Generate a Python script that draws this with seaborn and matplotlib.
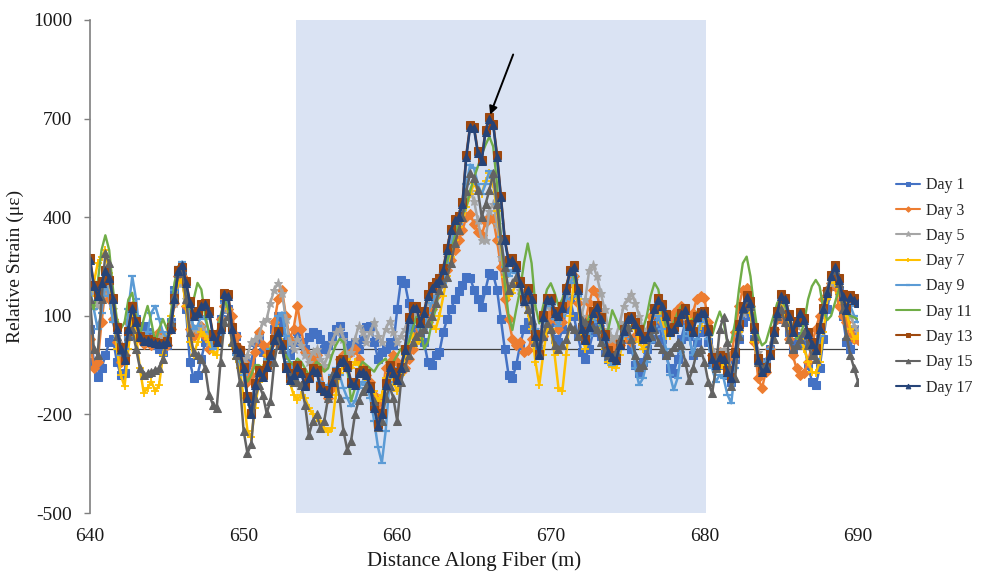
import numpy as np
import pandas as pd
import matplotlib
matplotlib.use("Agg")
import matplotlib.pyplot as plt
import seaborn as sns

# ---------------- data (0.25 m spacing) ----------------
distance = np.round(np.arange(640.0, 690.0001, 0.25), 2)

day1 = [60, -40, -85, -60, -20, 20, 30, -40, -80, -75, 40, 120, 90, 60, 70, 50,
        30, 10, 0, -10, 10, 80, 180, 240, 230, 120, -40, -90, -80, -30, 20, 30,
        25, 40, 90, 150, 120, 60, 40, -10, -60, -90, -40, 20, 40, -10, -40, -30,
        60, 100, 80, 20, -20, 20, 55, 20, 0, 35, 50, 45, 30, 0, 10, 40,
        60, 70, 40, 0, 10, 20, 0, 30, 65, 70, 20, -30, -10, 0, 20, 10,
        120, 210, 200, 140, 60, 30, 40, 20, -40, -50, -20, -10, 50, 90, 120, 150,
        175, 195, 219, 215, 180, 150, 128, 180, 230, 225, 180, 90, 0, -80, -90, -50,
        10, 60, 80, 60, 20, 0, 40, 100, 80, 30, 20, 60, 120, 150, 100, 40,
        -10, -30, 0, 50, 80, 40, -10, -30, -40, -20, 10, 40, 30, 0, -50, -75,
        -40, 0, 30, 60, 80, 30, -20, -60, -75, -30, 30, 80, 40, -20, 20, 50,
        60, 20, -40, -60, -40, -50, -80, -100, -30, 30, 80, 120, 100, 30, -30, -50,
        -40, 0, 50, 90, 120, 100, 50, 0, 20, 40, 10, -50, -100, -110, -60, 30,
        120, 190, 230, 180, 100, 20, 0, 60, 40]

day3 = [30, -60, -40, 80, 180, 150, 90, 20, -40, -20, 80, 130, 70, 30, 15, 20,
        10, 30, 50, 20, 10, 60, 140, 220, 220, 130, 60, 40, 50, 70, 40, 0,
        10, 30, 90, 130, 120, 100, 40, 0, -40, -100, -80, -10, 50, 10, -20, 10,
        80, 150, 180, 100, 30, 60, 130, 60, -10, -20, -40, -20, -60, -130, -150, -120,
        -70, -30, -20, -60, -10, 0, -30, -60, -80, -100, -140, -190, -160, -60, -40, -20,
        -40, -70, -60, -30, 0, 40, 60, 70, 80, 120, 160, 190, 210, 240, 270, 300,
        330, 361, 400, 410, 380, 355, 345, 385, 400, 395, 330, 250, 150, 90, 30, 10,
        20, -10, -5, 30, 50, 30, 40, 80, 110, 90, 60, 80, 140, 200, 220, 140,
        50, 80, 140, 180, 170, 110, 40, 10, 0, 20, 10, 40, 30, 20, 40, 50,
        30, 50, 100, 120, 110, 80, 60, 90, 110, 120, 130, 100, 80, 110, 150, 160,
        155, 80, -20, -30, -10, -40, -60, -20, 50, 130, 180, 185, 130, 20, -90, -120,
        -70, 0, 60, 90, 120, 80, 30, -20, -60, -80, -75, -40, 10, 60, 100, 150,
        180, 200, 190, 130, 100, 80, 50, 30, 25]

day5 = [200, 170, 130, 180, 210, 180, 120, 40, 10, 0, 60, 110, 80, 50, 40, 30,
        30, 20, 30, 40, 50, 80, 140, 200, 200, 150, 90, 60, 60, 70, 50, 20,
        10, 20, 80, 140, 120, 60, 0, -20, -30, -20, 20, 30, 40, 80, 90, 140,
        180, 200, 170, 90, 20, 0, 30, 10, -20, -40, -10, 0, -30, -50, -20, 20,
        50, 60, 30, -20, -10, 30, 70, 50, 20, 50, 80, 40, 20, 60, 85, 50,
        20, 40, 60, 90, 110, 100, 80, 110, 140, 170, 200, 220, 250, 280, 330, 370,
        400, 420, 460, 480, 450, 390, 330, 330, 420, 440, 380, 280, 230, 180, 200, 210,
        180, 140, 150, 130, 60, 20, 80, 130, 130, 100, 90, 110, 160, 200, 210, 170,
        100, 150, 240, 255, 220, 170, 120, 60, 30, 40, 80, 130, 150, 165, 140, 100,
        60, 60, 80, 110, 120, 110, 90, 70, 70, 90, 100, 110, 80, 60, 90, 100,
        90, 50, 0, -20, -10, 0, -50, -70, -20, 50, 110, 140, 130, 60, -10, -40,
        -40, 0, 50, 100, 140, 130, 90, 60, 70, 90, 80, 40, 20, 10, 60, 120,
        160, 200, 230, 200, 150, 110, 100, 70, 50]

day7 = [160, 200, 260, 280, 300, 230, 120, 0, -80, -115, 0, 100, 40, -60, -135, -120,
        -100, -130, -110, -20, 40, 100, 150, 200, 210, 130, 20, -20, 20, 50, 40, 20,
        -10, -20, 60, 150, 120, 10, -30, -60, -150, -250, -270, -180, -100, -60, -20, 0,
        30, 60, 20, -60, -100, -140, -155, -140, -150, -180, -200, -210, -220, -240, -255, -240,
        -140, -75, -50, -30, -60, -40, -50, -80, -110, -115, -130, -160, -140, -90, -70, -100,
        -130, -80, -20, 20, 40, 15, 30, 60, 77, 70, 60, 100, 160, 220, 280, 330,
        370, 390, 430, 470, 503, 480, 470, 510, 533, 500, 420, 320, 219, 160, 170, 200,
        190, 150, 110, 60, -40, -110, -20, 60, 60, -20, -120, -130, -20, 100, 200, 150,
        40, 0, 40, 90, 100, 60, 0, -40, -55, -60, -20, 40, 90, 100, 60, 20,
        0, 20, 80, 120, 110, 80, 40, 40, 50, 80, 110, 120, 90, 50, 50, 70,
        90, 70, -20, -60, -60, -50, -70, -80, -20, 50, 130, 150, 110, 20, -40, -70,
        -50, 0, 60, 110, 130, 100, 70, 50, 40, 30, 0, -40, -70, -75, -40, 50,
        150, 220, 200, 170, 140, 110, 60, 30, 40]

day9 = [180, 120, 60, 110, 200, 160, 80, 30, -20, 0, 120, 220, 150, 40, 10, 50,
        110, 130, 90, 50, 30, 80, 180, 250, 265, 200, 120, 60, 70, 100, 90, 50,
        0, 10, 50, 140, 150, 50, -20, -40, -80, -150, -170, -100, -60, -60, -30, 0,
        40, 100, 110, 40, -40, -60, -40, -70, -100, -90, -80, -70, -100, -120, -110, -80,
        -60, -80, -120, -150, -175, -160, -120, -100, -110, -150, -220, -300, -347, -250, -100, -60,
        -70, -50, -10, 50, 90, 80, 40, 60, 110, 140, 160, 170, 200, 260, 320, 360,
        380, 420, 500, 560, 550, 500, 470, 500, 540, 520, 440, 340, 250, 220, 240, 230,
        190, 150, 170, 140, 60, -10, 80, 140, 130, 90, 70, 100, 150, 200, 220, 160,
        70, 20, 40, 80, 100, 70, 20, -30, -50, -40, 0, 40, 60, 30, -60, -110,
        -90, -40, 20, 70, 100, 60, 0, -80, -126, -90, -10, 70, 40, -20, 30, 80,
        100, 30, -60, -100, -80, -90, -140, -166, -60, 40, 110, 150, 130, 60, -20, -60,
        -40, 0, 60, 120, 170, 160, 110, 60, 70, 110, 100, 40, 0, -30, 40, 120,
        180, 230, 260, 220, 170, 120, 130, 100, 80]

day11 = [150, 120, 200, 300, 345, 300, 180, 90, 60, 80, 150, 170, 100, 40, 90, 130,
         80, 20, 60, 90, 60, 100, 200, 250, 235, 190, 120, 150, 200, 180, 100, 50,
         30, 40, 100, 150, 120, 40, 0, -30, -70, -100, -80, -50, -50, -60, -40, 0,
         20, 30, 20, -20, -40, -50, -30, -40, -60, -80, -60, -40, -50, -70, -60, -20,
         10, 30, 20, -60, -160, -120, -60, -40, -50, -60, -70, -50, -40, -30, -60, -40,
         -20, 0, 0, 20, 60, 97, 60, 0, 20, 80, 118, 180, 230, 270, 300, 340,
         380, 410, 432, 480, 520, 554, 590, 620, 645, 615, 500, 340, 199, 100, 57, 120,
         178, 260, 320, 260, 130, 77, 130, 180, 199, 170, 130, 150, 190, 230, 220, 160,
         80, 60, 100, 120, 110, 70, 40, 60, 117, 90, 60, 50, 60, 70, 60, 50,
         60, 100, 160, 200, 180, 110, 70, 60, 80, 110, 130, 100, 80, 90, 110, 120,
         120, 60, 40, 80, 113, 80, 17, 20, 80, 180, 260, 280, 220, 120, 40, 10,
         20, 60, 100, 140, 150, 130, 100, 60, 30, 40, 80, 150, 190, 209, 190, 120,
         87, 100, 140, 180, 150, 110, 100, 95, 90]

day13 = [275, 195, 165, 205, 240, 210, 155, 65, 5, -30, 55, 130, 85, 40, 25, 28,
         22, 20, 18, 18, 22, 65, 155, 240, 250, 205, 145, 105, 115, 135, 140, 115,
         45, 25, 65, 170, 165, 65, 5, -5, -55, -145, -195, -105, -65, -80, -50, -15,
         30, 55, 15, -55, -90, -75, -50, -70, -110, -85, -60, -65, -115, -125, -130, -95,
         -70, -35, -30, -50, -100, -105, -70, -65, -75, -115, -175, -230, -195, -105, -50, -70,
         -90, -55, 0, 95, 130, 130, 82, 115, 165, 190, 204, 214, 245, 305, 365, 395,
         405, 445, 590, 680, 675, 600, 575, 665, 705, 685, 590, 465, 335, 270, 275, 255,
         205, 150, 185, 155, 45, -15, 102, 155, 153, 115, 105, 130, 185, 240, 255, 185,
         65, 30, 72, 115, 133, 95, 45, -5, -20, -29, 15, 60, 95, 100, 80, 60,
         35, 40, 72, 125, 153, 135, 105, 55, 65, 85, 110, 123, 75, 55, 100, 112,
         115, 60, -25, -45, -20, -25, -65, -85, -9, 75, 130, 163, 145, 65, -29, -65,
         -55, -15, 55, 115, 165, 155, 105, 55, 85, 112, 92, 50, 20, 1, 65, 125,
         175, 225, 255, 215, 165, 123, 163, 153, 143]

day15 = [150, 0, -20, 150, 290, 260, 150, 40, -5, -10, 40, 60, 0, -60, -80, -75,
         -70, -65, -60, -30, 20, 80, 160, 230, 240, 150, 50, -10, -20, -30, -60, -140,
         -170, -180, -40, 80, 100, 20, -20, -100, -250, -318, -290, -150, -110, -140, -196, -160,
         -40, 25, 0, -60, -80, -100, -100, -110, -170, -263, -220, -200, -240, -220, -150, -80,
         -80, -150, -250, -308, -280, -200, -156, -130, -115, -120, -160, -237, -220, -150, -115, -150,
         -220, -100, -55, -20, 20, 40, 50, 60, 77, 100, 140, 180, 200, 219, 260, 320,
         360, 401, 480, 533, 520, 482, 401, 440, 482, 533, 440, 330, 250, 178, 200, 219,
         200, 150, 120, 87, 20, -14, 40, 77, 60, 10, 0, 10, 30, 70, 60, 40,
         87, 80, 70, 67, 60, 20, -10, -20, -24, -10, 30, 70, 67, 30, -20, -55,
         -50, -20, 40, 60, 20, 0, -20, -10, 5, 20, 10, -40, -95, -60, -10, 0,
         -40, -100, -136, -60, 60, 97, 20, -115, -90, 40, 120, 150, 130, 40, -40, -60,
         -50, -20, 30, 100, 120, 80, 30, 0, 10, 30, 50, 10, -20, -30, 60, 128,
         180, 220, 239, 200, 120, 40, -20, -60, -100]

day17 = [270, 190, 160, 200, 235, 215, 150, 60, 0, -35, 60, 125, 80, 35, 22, 25,
         20, 18, 15, 15, 20, 60, 150, 235, 255, 200, 140, 100, 110, 130, 135, 110,
         40, 20, 60, 165, 160, 60, 0, -10, -60, -150, -200, -110, -70, -85, -55, -20,
         25, 52, 10, -60, -95, -80, -55, -75, -115, -90, -65, -70, -120, -130, -135, -100,
         -75, -40, -35, -55, -105, -110, -75, -70, -80, -120, -180, -235, -200, -110, -55, -75,
         -95, -60, -5, 90, 125, 125, 77, 110, 160, 185, 199, 209, 240, 300, 360, 390,
         401, 440, 584, 675, 670, 595, 570, 660, 700, 680, 584, 460, 330, 265, 270, 250,
         200, 145, 180, 150, 40, -20, 97, 150, 148, 110, 100, 125, 180, 235, 250, 180,
         60, 25, 67, 110, 128, 90, 40, -10, -25, -34, 10, 55, 90, 95, 75, 55,
         30, 35, 67, 120, 148, 130, 100, 50, 60, 80, 105, 118, 70, 50, 95, 107,
         110, 55, -30, -50, -25, -30, -70, -90, -14, 70, 125, 158, 140, 60, -34, -70,
         -60, -20, 50, 110, 160, 150, 100, 50, 80, 107, 87, 45, 15, -4, 60, 120,
         170, 220, 250, 210, 160, 118, 158, 148, 138]

days = ["Day 1", "Day 3", "Day 5", "Day 7", "Day 9", "Day 11", "Day 13", "Day 15", "Day 17"]
series = [day1, day3, day5, day7, day9, day11, day13, day15, day17]

x_ticks = [640, 650, 660, 670, 680, 690]
y_ticks = [-500, -200, 100, 400, 700, 1000]
shade_start, shade_end = 653.4, 680.1
arrow_tip = (666.05, 712)
arrow_tail = (667.55, 895)

# ---------------- styles ----------------
styles = {
    "Day 1":  dict(color="#4472C4", marker="s", markersize=5.4),
    "Day 3":  dict(color="#ED7D31", marker="D", markersize=4.6),
    "Day 5":  dict(color="#A5A5A5", marker="*", markersize=6.5),
    "Day 7":  dict(color="#FFC000", marker="+", markersize=6.0, markeredgewidth=1.3),
    "Day 9":  dict(color="#5B9BD5", marker="_", markersize=6.0, markeredgewidth=1.6),
    "Day 11": dict(color="#70AD47", marker=None, markersize=0),
    "Day 13": dict(color="#9E480E", marker="s", markersize=5.6),
    "Day 15": dict(color="#636363", marker="^", markersize=5.4),
    "Day 17": dict(color="#264478", marker="^", markersize=5.6),
}

frames = []
for name, vals in zip(days, series):
    assert len(vals) == len(distance), (name, len(vals))
    frames.append(pd.DataFrame({"Distance": distance, "Strain": vals, "Day": name}))
df = pd.concat(frames, ignore_index=True)

sns.set_theme(style="white")
plt.rcParams["font.family"] = ["Liberation Serif", "DejaVu Serif"]
plt.rcParams["axes.unicode_minus"] = False

fig = plt.figure(figsize=(9.84, 5.71), dpi=100)
ax = fig.add_axes([90 / 984, 58 / 571, (858 - 90) / 984, (513 - 20) / 571])

ax.axvspan(shade_start, shade_end, color="#DAE3F3", zorder=0, lw=0)
ax.axhline(0, color="#404040", lw=0.9, zorder=1)

for name in days:
    st = dict(styles[name])
    sub = df[df["Day"] == name]
    mk = st.pop("marker")
    ms = st.pop("markersize")
    kw = dict(linewidth=1.7 if name == "Day 11" else 1.8)
    if mk is not None:
        kw.update(marker=mk, markersize=ms, markeredgecolor=st["color"],
                  markerfacecolor=st["color"])
        if "markeredgewidth" in st:
            kw["markeredgewidth"] = st.pop("markeredgewidth")
    sns.lineplot(data=sub, x="Distance", y="Strain", color=st["color"], ax=ax,
                 label=name, estimator=None, sort=False, zorder=2, **kw)

ax.annotate("", xy=arrow_tip, xytext=arrow_tail,
            arrowprops=dict(arrowstyle="-|>", color="black", lw=1.4,
                            mutation_scale=12, shrinkA=0, shrinkB=0), zorder=5)

ax.set_xlim(640, 690)
ax.set_ylim(-500, 1000)
ax.set_xticks(x_ticks)
ax.set_yticks(y_ticks)
ax.tick_params(axis="x", length=0, labelsize=14, pad=11, colors="#1a1a1a")
ax.tick_params(axis="y", length=4, width=1, direction="out", left=True,
               labelsize=14, pad=9, colors="#1a1a1a")
ax.tick_params(axis="y", color="#7f7f7f")
for s in ["top", "right", "bottom"]:
    ax.spines[s].set_visible(False)
ax.spines["left"].set_color("#7f7f7f")
ax.spines["left"].set_linewidth(1.2)
ax.grid(False)
ax.set_facecolor("white")

ax.set_xlabel("Distance Along Fiber (m)", fontsize=15, labelpad=4, color="#1a1a1a")
ax.set_ylabel("Relative Strain (με)", fontsize=14, labelpad=6, color="#1a1a1a")

handles, labels = ax.get_legend_handles_labels()
ax.legend_.remove()
leg = fig.legend(handles, labels, loc="upper left", bbox_to_anchor=(890 / 984, 1 - 171 / 571),
                 frameon=False, fontsize=11.5, handlelength=1.5, handletextpad=0.35,
                 labelspacing=0.58, borderaxespad=0, markerscale=0.6)
for line in leg.get_lines():
    line.set_linewidth(1.5)

fig.savefig("out.png", dpi=100, facecolor="white")
